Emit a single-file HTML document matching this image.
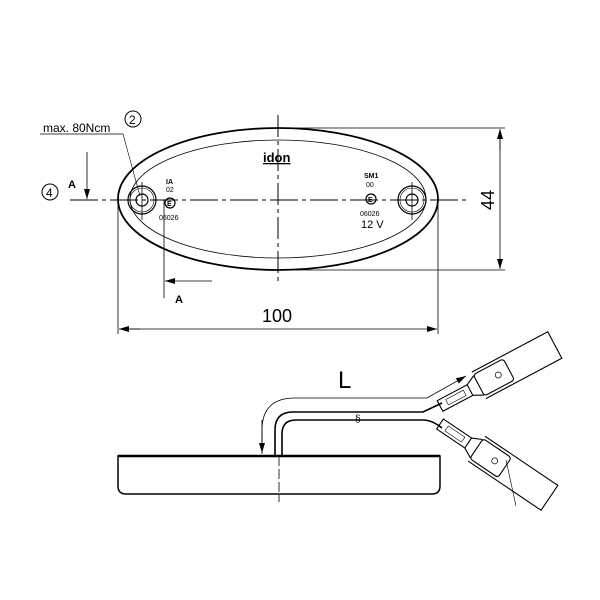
<!DOCTYPE html>
<html><head><style>body{margin:0;background:#fff}svg{display:block}text{font-family:"Liberation Sans",sans-serif;fill:#000}</style></head><body>
<svg width="600" height="600" viewBox="0 0 600 600" xmlns="http://www.w3.org/2000/svg">
<defs><marker id="ar" viewBox="0 0 10 6" refX="10" refY="3" markerWidth="10" markerHeight="6" orient="auto" markerUnits="userSpaceOnUse"><path d="M0,0L10,3L0,6z" fill="#000"/></marker></defs>
<g fill="none" stroke="#000">
<!-- top view -->
<ellipse cx="278" cy="199" rx="160" ry="71" stroke-width="1.8"/>
<ellipse cx="278" cy="199" rx="148" ry="59" stroke-width="0.8"/>
<line x1="70" y1="200" x2="470" y2="200" stroke-width="1" stroke-dasharray="28,4,4,4"/>
<line x1="278" y1="115" x2="278" y2="285" stroke-width="1" stroke-dasharray="22,4,4,4"/>
<circle cx="142" cy="200" r="14" stroke-width="1.2"/><circle cx="142" cy="200" r="12" stroke-width="0.6"/><circle cx="142" cy="200" r="6" stroke-width="1.2"/>
<circle cx="412" cy="200" r="14" stroke-width="1.2"/><circle cx="412" cy="200" r="12" stroke-width="0.6"/><circle cx="412" cy="200" r="6" stroke-width="1.2"/>
<line x1="142" y1="182" x2="142" y2="220" stroke-width="0.8"/><line x1="412" y1="182" x2="412" y2="220" stroke-width="0.8"/>
<circle cx="170" cy="203" r="5" stroke-width="1.2"/><circle cx="371" cy="199" r="5" stroke-width="1.2"/>
<circle cx="133" cy="119" r="8" stroke-width="1"/><circle cx="50" cy="192" r="8" stroke-width="1"/>
<line x1="40" y1="134" x2="123" y2="134" stroke-width="0.8"/><line x1="123" y1="134" x2="140" y2="196" stroke-width="0.6"/>
<line x1="87" y1="152" x2="87" y2="199" stroke-width="0.8" marker-end="url(#ar)"/>
<line x1="164" y1="200" x2="164" y2="298" stroke-width="0.8"/>
<line x1="212" y1="281" x2="165" y2="281" stroke-width="0.8" marker-end="url(#ar)"/>
<line x1="118" y1="202" x2="118" y2="334" stroke-width="0.8"/><line x1="438" y1="202" x2="438" y2="334" stroke-width="0.8"/>
<line x1="140" y1="329" x2="119" y2="329" stroke-width="0.8" marker-end="url(#ar)"/><line x1="130" y1="329" x2="437" y2="329" stroke-width="0.8" marker-end="url(#ar)"/>
<line x1="278" y1="128" x2="505" y2="128" stroke-width="0.8"/><line x1="278" y1="270" x2="505" y2="270" stroke-width="0.8"/>
<line x1="500" y1="150" x2="500" y2="129" stroke-width="0.8" marker-end="url(#ar)"/><line x1="500" y1="140" x2="500" y2="269" stroke-width="0.8" marker-end="url(#ar)"/>
<!-- side view -->
<path d="M118,456 H440 V486 Q440,494 432,494 H126 Q118,494 118,486 Z" stroke-width="1.5"/>
<line x1="118" y1="456" x2="440" y2="456" stroke-width="2.5"/>
<line x1="279" y1="456" x2="279" y2="502" stroke-width="0.8" stroke-dasharray="10,3"/>
<path d="M275,456 V430 Q275,412 293,412 H423 L442,403" stroke-width="1.6"/>
<path d="M282,456 V434 Q282,420 296,420 H423 Q432,420 442,428" stroke-width="1.6"/>
<path d="M262,454 V430 Q262,398 295,398 H427 L466,376" stroke-width="0.8" marker-end="url(#ar)"/>
<path d="M245,428" />
<path d="M262,420 V453" stroke-width="0.8" marker-end="url(#ar)"/>
<text x="355" y="422" font-size="10" stroke="none" style="font-family:'Liberation Sans'">§</text>
<g transform="translate(440,406) rotate(-28)" stroke-width="1.1">
<rect x="0" y="-6" width="34" height="12"/><rect x="8" y="-3" width="20" height="6" stroke-width="0.6"/>
<path d="M34,-6 L44,-11 M34,6 L44,11"/>
<rect x="44" y="-12" width="34" height="24" rx="3"/>
<path d="M44,-15 H130 V15 H44" />
<circle cx="66" cy="0" r="3" stroke-width="0.7"/>
</g>
<g transform="translate(440,424) rotate(34)" stroke-width="1.1">
<rect x="0" y="-6" width="34" height="12"/><rect x="8" y="-3" width="20" height="6" stroke-width="0.6"/>
<path d="M34,-6 L44,-11 M34,6 L44,11"/>
<rect x="44" y="-12" width="34" height="24" rx="3"/>
<path d="M44,-15 H132 V15 H44" />
<circle cx="66" cy="0" r="3" stroke-width="0.7"/>
</g>
<line x1="506" y1="460" x2="516" y2="506" stroke-width="0.6"/>
</g>
<text x="43" y="132" font-size="12">max. 80Ncm</text>
<text x="129" y="124" font-size="12">2</text>
<text x="46" y="197" font-size="12">4</text>
<text x="68" y="188" font-size="11" font-weight="bold">A</text>
<text x="175" y="303" font-size="11" font-weight="bold">A</text>
<text x="262" y="322" font-size="18">100</text>
<text transform="translate(494,200) rotate(-90)" x="0" y="0" font-size="18" text-anchor="middle">44</text>
<text x="263" y="162" font-size="13" font-weight="bold" text-decoration="underline">idon</text>
<text x="166" y="184" font-size="7" font-weight="bold">IA</text>
<text x="166" y="192" font-size="7">02</text>
<text x="167" y="206" font-size="7" font-weight="bold">E</text>
<text x="159" y="220" font-size="7">06026</text>
<text x="364" y="178" font-size="7" font-weight="bold">SM1</text>
<text x="366" y="187" font-size="7">00</text>
<text x="368" y="202" font-size="7" font-weight="bold">E</text>
<text x="360" y="216" font-size="7">06026</text>
<text x="361" y="228" font-size="11">12 V</text>
<text x="338" y="388" font-size="24">L</text>
</svg>
</body></html>
